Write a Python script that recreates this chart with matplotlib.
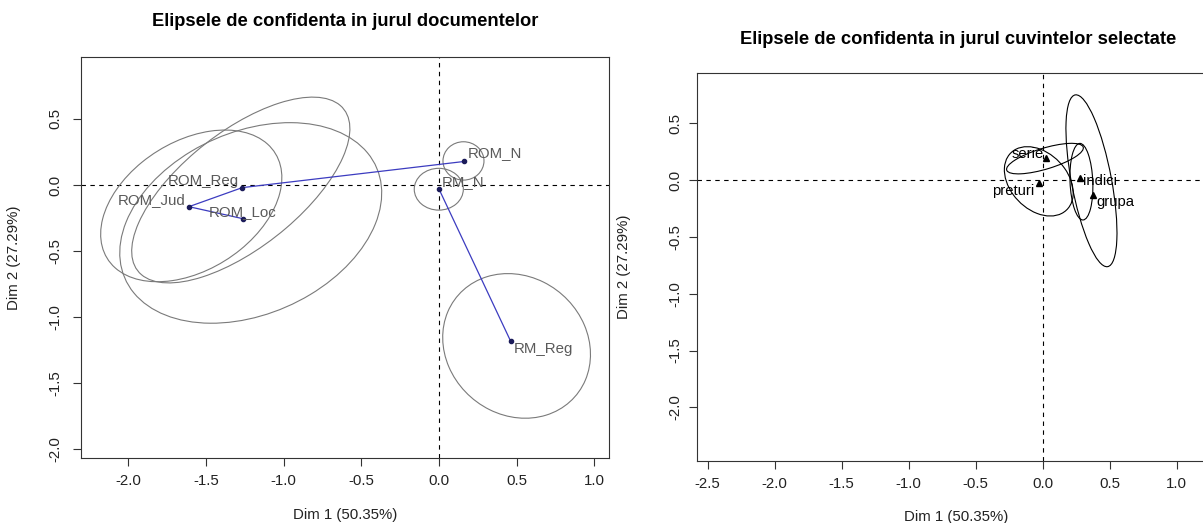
import numpy as np
import matplotlib.pyplot as plt
from matplotlib.patches import Ellipse

plt.rcParams['font.family'] = ['Liberation Sans', 'DejaVu Sans']

# documents (left panel)
doc_labels = ['ROM_Jud', 'ROM_Reg', 'ROM_Loc', 'ROM_N', 'RM_N', 'RM_Reg']
doc_dim1 = [-1.610, -1.267, -1.262, 0.163, 0.000, 0.462]
doc_dim2 = [-0.164, -0.020, -0.255, 0.178, -0.030, -1.182]
# confidence ellipses: centre, full width / height, angle (deg)
doc_ell_cx = [-1.595, -1.276, -1.212, 0.158, -0.001, 0.500]
doc_ell_cy = [-0.158, -0.038, -0.287, 0.182, -0.032, -1.217]
doc_ell_w = [1.356, 1.810, 1.840, 0.264, 0.316, 1.114]
doc_ell_h = [0.916, 0.820, 1.327, 0.290, 0.316, 0.928]
doc_ell_ang = [43.7, 45.0, 35.2, 0.0, 0.0, 110.0]
doc_paths = [['ROM_Loc', 'ROM_Jud', 'ROM_Reg', 'ROM_N'], ['RM_N', 'RM_Reg']]

# selected words (right panel)
word_labels = ['serie', 'preturi', 'indici', 'grupa']
word_dim1 = [0.024, -0.028, 0.282, 0.377]
word_dim2 = [0.196, -0.029, 0.020, -0.135]
word_ell_cx = [0.018, -0.028, 0.290, 0.365]
word_ell_cy = [0.188, -0.012, -0.015, -0.007]
word_ell_w = [0.606, 0.660, 0.674, 1.530]
word_ell_h = [0.182, 0.448, 0.170, 0.300]
word_ell_ang = [20.0, -58.7, 92.0, 99.0]

x_ticks_left = [-2.0, -1.5, -1.0, -0.5, 0.0, 0.5, 1.0]
x_ticks_right = [-2.5, -2.0, -1.5, -1.0, -0.5, 0.0, 0.5, 1.0]
y_ticks = [-2.0, -1.5, -1.0, -0.5, 0.0, 0.5]

xlab = 'Dim 1 (50.35%)'
ylab = 'Dim 2 (27.29%)'

# label placement (pixels): ha, dx, dy
doc_lab_pos = {'ROM_Jud': ('right', -3, 7), 'ROM_Reg': ('right', -3, 7),
               'ROM_Loc': ('center', 0, 7), 'ROM_N': ('left', 3, 8),
               'RM_N': ('left', 3, 7), 'RM_Reg': ('left', 3, -8)}
word_lab_pos = {'serie': ('right', -2, 4), 'preturi': ('right', -4, -8),
                'indici': ('left', 3, -3), 'grupa': ('left', 3, -7)}

W, H = 1203, 523
fig = plt.figure(figsize=(W / 100, H / 100), dpi=100)
ax1 = fig.add_axes([81 / W, (H - 458.3) / H, 528.3 / W, (458.3 - 57) / H])
ax2 = fig.add_axes([696.7 / W, (H - 461) / H, (1215 - 696.7) / W, (461 - 73) / H])


def style_axes(ax, xticks, ypad):
    ax.set_xticks(xticks)
    ax.set_yticks(y_ticks)
    ax.set_xticklabels([f'{t:.1f}' for t in xticks])
    ax.set_yticklabels([f'{t:.1f}' for t in y_ticks])
    ax.tick_params(axis='both', direction='out', length=5.5, width=0.8,
                   color='#333333', labelsize=10.8, labelcolor='#222222')
    ax.tick_params(axis='x', pad=6)
    ax.tick_params(axis='y', pad=ypad, labelrotation=90)
    for lab in ax.get_yticklabels():
        lab.set_va('center')
    for s in ax.spines.values():
        s.set_color('#333333')
        s.set_linewidth(0.8)
    ax.axhline(0, color='black', lw=0.8, ls=(0, (4, 4)), zorder=1)
    ax.axvline(0, color='black', lw=0.8, ls=(0, (4, 4)), zorder=1)
    ax.set_xlabel(xlab, fontsize=10.8, color='#222222')
    ax.xaxis.set_label_coords(0.5, -0.125)


# ---- left panel
style_axes(ax1, x_ticks_left, 8)
ax1.set_xlim(-2.305, 1.097)
ax1.set_ylim(-2.067, 0.968)
ax1.set_ylabel(ylab, fontsize=10.8, color='#222222')
ax1.yaxis.set_label_coords(-60 / 528.3, 0.5)

for cx, cy, w, h, a in zip(doc_ell_cx, doc_ell_cy, doc_ell_w, doc_ell_h, doc_ell_ang):
    ax1.add_patch(Ellipse((cx, cy), w, h, angle=a, fill=False,
                          edgecolor='#7a7a7a', lw=0.8, zorder=2))

idx = {lab: i for i, lab in enumerate(doc_labels)}
for path in doc_paths:
    ax1.plot([doc_dim1[idx[p]] for p in path], [doc_dim2[idx[p]] for p in path],
             color='#3c3cc0', lw=0.9, zorder=3)
ax1.plot(doc_dim1, doc_dim2, 'o', color='#1c1c5a', ms=3, zorder=4)
for lab, x, y in zip(doc_labels, doc_dim1, doc_dim2):
    ha, dx, dy = doc_lab_pos[lab]
    ax1.annotate(lab, (x, y), xytext=(dx, dy), textcoords='offset pixels',
                 ha=ha, va='center', fontsize=10.8, color='#5a5a5a', zorder=5)

# ---- right panel
style_axes(ax2, x_ticks_right, 5)
ax2.set_xlim(-2.581, 1.287)
ax2.set_ylim(-2.472, 0.941)
ax2.set_ylabel(ylab, fontsize=10.8, color='#222222')
ax2.yaxis.set_label_coords(-66 / 518.3, 0.5)

for cx, cy, w, h, a in zip(word_ell_cx, word_ell_cy, word_ell_w, word_ell_h, word_ell_ang):
    ax2.add_patch(Ellipse((cx, cy), w, h, angle=a, fill=False,
                          edgecolor='black', lw=0.8, zorder=2))
ax2.plot(word_dim1, word_dim2, '^', color='black', ms=5, zorder=4)
for lab, x, y in zip(word_labels, word_dim1, word_dim2):
    ha, dx, dy = word_lab_pos[lab]
    ax2.annotate(lab, (x, y), xytext=(dx, dy), textcoords='offset pixels',
                 ha=ha, va='center', fontsize=10.6, color='black', zorder=5)

fig.text(345 / W, 1 - 22 / H, 'Elipsele de confidenta in jurul documentelor',
         ha='center', va='center', fontsize=13.2, fontweight='bold')
fig.text(958 / W, 1 - 40 / H, 'Elipsele de confidenta in jurul cuvintelor selectate',
         ha='center', va='center', fontsize=13.2, fontweight='bold')

fig.savefig('out.png', dpi=100)
